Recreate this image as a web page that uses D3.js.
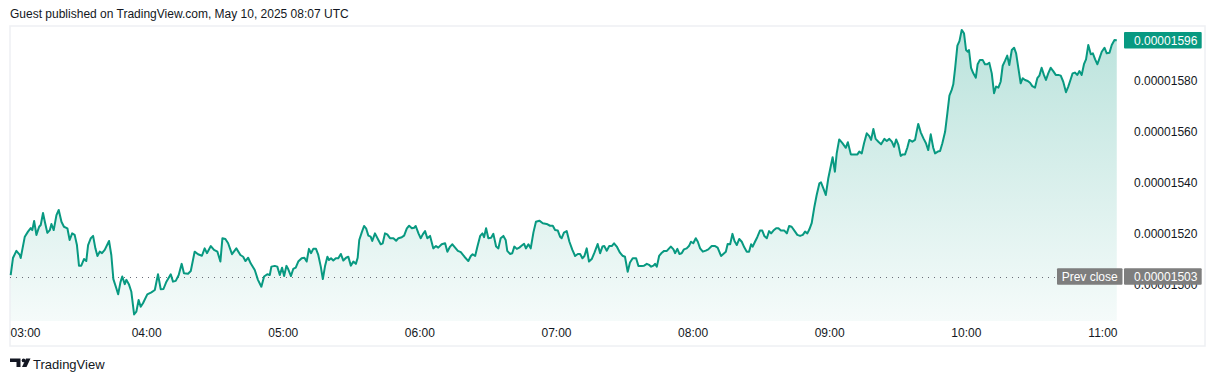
<!DOCTYPE html>
<html>
<head>
<meta charset="utf-8">
<script src="https://cdn.jsdelivr.net/npm/d3@7"></script>
<style>
  body { margin: 0; background: #fff; }
  svg { display: block; font-family: "Liberation Sans", Arial, sans-serif; }
</style>
</head>
<body>
<svg id="chart" width="1218" height="382"></svg>
<script>
// minutes after 03:00
const minutes = [
  0.5,1.5,3.0,4.5,4.9,6.7,8.1,9.3,10.0,10.8,11.8,13.0,13.7,14.7,15.5,16.6,17.7,18.4,19.4,20.6,21.6,22.8,23.9,25.4,26.4,27.5,28.6,29.6,30.5,31.5,32.7,33.7,34.5,35.7,36.7,37.7,38.6,39.6,40.6,41.8,43.7,44.7,45.6,46.9,47.7,48.7,49.5,50.6,51.3,52.4,53.5,54.7,55.7,56.7,57.6,58.6,60.5,62.3,63.8,65.2,66.4,67.6,68.9,70.8,71.8,73.0,74.3,75.6,76.6,78.4,79.6,81.3,82.8,84.5,85.7,86.7,88.4,89.8,91.3,92.6,93.5,94.8,96.0,97.7,99.6,101.4,102.6,103.6,104.8,105.9,107.7,109.1,110.6,111.8,113.2,114.3,115.0,116.5,117.6,118.7,119.7,120.6,121.6,
  122.2,123.6,124.6,125.7,126.8,128.3,129.5,130.5,131.5,132.4,133.4,134.6,135.6,136.7,137.6,138.6,139.6,140.3,141.2,142.2,143.3,144.4,145.5,146.6,147.8,148.8,149.9,151.0,152.1,152.9,153.6,154.7,155.7,156.6,157.6,158.6,159.3,160.5,162.0,163.0,163.9,164.9,165.9,167.1,168.6,169.8,170.8,172.3,173.3,174.5,175.5,176.7,177.7,178.4,179.6,180.6,181.5,182.5,183.5,184.7,186.1,187.3,188.3,189.8,191.3,192.3,193.5,194.5,195.7,196.9,198.2,199.8,201.5,202.6,203.4,204.5,205.5,206.7,207.7,208.4,209.3,210.3,211.5,212.5,213.7,214.7,215.7,216.9,217.9,218.6,219.8,220.8,221.7,222.8,223.9,225.0,226.0,226.8,227.9,228.9,230.1,231.2,232.7,234.2,235.9,237.4,238.6,239.6,240.8,241.8,
  242.5,243.5,244.7,245.9,247.2,248.4,249.6,250.6,251.6,252.5,253.5,254.5,255.7,256.9,258.3,259.4,260.4,261.2,262.3,263.4,264.5,265.5,266.7,268.1,269.2,270.3,271.5,272.5,273.7,275.2,276.2,277.7,278.7,279.9,280.9,281.8,282.8,283.5,284.3,285.3,286.5,287.5,288.7,289.7,290.5,291.6,292.3,293.3,294.2,295.2,296.2,297.4,298.4,299.3,300.3,301.4,302.3,303.3,304.5,305.8,306.9,308.4,309.9,311.0,312.5,313.5,314.6,315.4,316.5,317.5,318.4,319.4,320.5,321.6,322.7,323.8,324.8,325.7,326.4,327.4,328.4,329.6,330.6,331.5,332.6,333.6,334.5,335.5,336.7,337.7,338.8,340.3,341.4,342.4,343.5,344.7,346.0,347.2,348.4,349.4,350.4,351.3,352.3,353.5,354.5,355.7,356.4,357.4,358.5,359.6,360.8,361.5,362.5,363.3,364.4,
  365.8,367.3,368.2,369.5,370.9,372.4,373.2,374.3,375.3,376.5,377.6,378.4,379.4,380.4,381.6,382.8,384.2,385.3,386.4,387.5,388.5,389.4,390.4,391.4,392.3,393.3,394.3,395.2,396.5,397.7,398.4,399.1,400.2,401.4,402.5,403.5,404.6,405.7,406.5,407.7,408.7,409.7,410.9,411.9,412.8,413.8,414.5,415.3,416.3,417.2,418.2,419.2,420.1,420.9,421.4,422.3,423.3,424.4,425.2,426.2,427.4,428.4,429.4,430.3,431.4,432.4,433.3,434.3,435.3,436.2,437.2,438.2,439.1,440.2,441.2,442.1,443.1,444.1,445.0,446.0,447.2,448.2,449.2,450.4,451.4,452.3,453.3,454.3,455.2,456.2,457.3,458.4,459.5,460.6,461.7,462.8,464.0,465.0,466.1,466.9,467.9,469.0,469.9,470.9,471.9,472.8,473.8,474.9,475.8,476.8,477.8,478.7,479.7,480.9,481.9,483.1,484.1,485.3,486.3
];

// price, in units of 1e-8
const prices = [
  1503.6,1510.3,1513.1,1511.5,1510.3,1518.7,1520.7,1522.1,1521.3,1524.9,1519.4,1522.6,1523.3,1528.0,1524.6,1520.2,1521.3,1523.7,1521.3,1527.2,1529.2,1524.6,1522.6,1522.0,1517.4,1520.0,1519.4,1515.4,1507.3,1507.3,1509.9,1509.1,1515.4,1518.1,1519.0,1514.1,1511.1,1512.8,1512.2,1513.5,1517.0,1511.5,1502.0,1498.4,1496.0,1500.7,1503.0,1500.0,1501.7,1500.0,1497.0,1488.1,1489.2,1493.8,1491.1,1492.5,1496.0,1496.8,1497.7,1503.9,1498.0,1498.1,1501.0,1503.9,1501.0,1501.3,1503.6,1508.0,1504.3,1504.1,1505.2,1512.8,1511.8,1511.2,1514.1,1512.2,1515.0,1513.5,1512.8,1508.9,1518.1,1517.8,1516.1,1511.8,1514.1,1511.5,1510.8,1509.1,1510.4,1508.2,1505.6,1501.7,1499.0,1503.0,1503.9,1503.6,1506.9,1507.2,1506.9,1503.6,1506.5,1503.2,1507.2,
  1506.3,1503.2,1506.0,1506.5,1508.9,1510.2,1510.4,1508.9,1513.9,1512.2,1513.9,1513.9,1511.5,1506.9,1502.0,1507.3,1510.8,1509.5,1510.2,1509.3,1510.2,1510.2,1511.9,1509.3,1510.4,1510.8,1507.3,1508.9,1508.0,1510.4,1517.4,1520.4,1522.9,1522.0,1519.1,1518.7,1517.0,1520.0,1517.4,1515.7,1516.1,1520.0,1519.6,1518.1,1518.1,1517.1,1518.1,1518.5,1519.1,1522.0,1523.0,1522.0,1522.2,1522.9,1520.0,1518.1,1519.6,1520.9,1518.1,1519.0,1514.1,1515.0,1514.4,1515.7,1516.1,1512.8,1514.8,1515.7,1514.4,1513.1,1512.6,1510.8,1509.1,1511.1,1511.8,1511.1,1514.8,1519.0,1520.0,1518.5,1522.0,1518.1,1518.3,1519.8,1514.8,1514.1,1518.1,1519.0,1517.4,1513.1,1511.9,1512.2,1514.8,1513.9,1514.4,1515.2,1515.9,1514.1,1515.7,1514.1,1520.4,1524.6,1525.0,1524.0,1523.7,1523.0,1523.0,1521.3,1521.1,1518.7,
  1518.1,1520.3,1520.9,1516.7,1513.5,1511.1,1511.9,1511.9,1510.2,1511.1,1514.1,1508.9,1509.9,1512.4,1515.8,1512.2,1514.8,1515.0,1513.2,1515.0,1515.0,1516.1,1514.8,1512.4,1511.2,1510.8,1504.9,1508.5,1510.2,1510.2,1507.2,1507.2,1507.3,1508.0,1507.6,1506.9,1507.3,1508.0,1506.9,1511.1,1512.4,1513.1,1513.1,1514.1,1514.8,1513.7,1512.2,1513.9,1511.9,1512.2,1513.7,1514.1,1515.0,1516.7,1516.1,1518.1,1516.7,1514.1,1512.8,1513.2,1513.7,1515.0,1515.0,1514.4,1511.1,1511.9,1512.8,1515.8,1515.7,1519.8,1517.0,1515.4,1517.8,1516.7,1514.5,1512.8,1512.8,1515.7,1514.8,1516.7,1518.5,1521.1,1521.1,1519.0,1518.1,1520.9,1520.0,1521.1,1522.0,1522.0,1521.1,1521.1,1520.0,1522.9,1522.6,1521.1,1519.4,1519.0,1519.4,1520.7,1520.0,1521.6,1524.0,1530.5,1535.1,1539.7,1540.1,1537.8,1535.1,1541.7,1546.9,1550.0,1544.3,1551.5,1557.0,
  1555.5,1553.7,1555.9,1551.1,1551.1,1551.1,1552.2,1551.5,1555.5,1559.4,1558.3,1556.8,1561.1,1557.2,1556.1,1555.1,1557.2,1556.4,1557.2,1556.1,1554.1,1557.0,1554.8,1550.5,1551.1,1551.1,1553.7,1556.8,1556.1,1556.8,1560.0,1563.1,1559.8,1557.4,1555.5,1552.8,1559.0,1553.7,1551.5,1552.2,1552.4,1555.5,1560.0,1567.3,1574.2,1576.5,1578.7,1585.0,1593.9,1595.7,1600.1,1598.8,1592.2,1591.5,1592.2,1585.2,1583.0,1581.3,1586.6,1588.3,1588.3,1586.6,1586.6,1587.2,1583.0,1575.2,1577.8,1577.4,1579.7,1586.0,1587.9,1590.0,1586.3,1592.2,1593.1,1590.9,1585.0,1579.1,1581.1,1580.4,1580.0,1579.3,1578.0,1577.4,1581.1,1582.1,1585.2,1582.4,1580.4,1583.0,1585.2,1583.9,1582.4,1582.4,1582.1,1579.7,1575.6,1577.8,1580.8,1583.0,1583.3,1582.4,1583.9,1582.4,1586.6,1588.5,1594.2,1590.5,1590.9,1588.5,1586.6,1588.9,1591.5,1593.1,1590.9,1591.1,1594.2,1596.1,1596.0
];

const hourTicks = [0, 60, 120, 180, 240, 300, 360, 420, 480];
const hourLabels = ["03:00", "04:00", "05:00", "06:00", "07:00", "08:00", "09:00", "10:00", "11:00"];
const priceTicks = [1500, 1520, 1540, 1560, 1580];
const prevClose = 1503;
const lastPrice = 1596;

const green = "#089981";
const fmt = v => (v * 1e-8).toFixed(8);

const svg = d3.select("#chart");
const plotLeft = 10, plotRight = 1122, plotTop = 26, plotBottom = 321;

const x = d3.scaleLinear().domain([0.2, 488.6]).range([plotLeft, plotRight]);
const y = d3.scaleLinear().domain([1485.5, 1601.65]).range([plotBottom, plotTop]);

const data = minutes.map((m, i) => ({ m, v: prices[i] }));

// header
svg.append("text").attr("x", 10).attr("y", 18)
  .attr("font-size", 12).attr("fill", "#131722")
  .text("Guest published on TradingView.com, May 10, 2025 08:07 UTC");

// frame
svg.append("rect").attr("x", 10).attr("y", 26).attr("width", 1195).attr("height", 320)
  .attr("fill", "none").attr("stroke", "#eef0f3").attr("stroke-width", 1.5);

// area gradient
const grad = svg.append("defs").append("linearGradient")
  .attr("id", "fillGrad").attr("gradientUnits", "userSpaceOnUse")
  .attr("x1", 0).attr("x2", 0).attr("y1", plotTop).attr("y2", plotBottom);
grad.append("stop").attr("offset", 0).attr("stop-color", green).attr("stop-opacity", 0.28);
grad.append("stop").attr("offset", 1).attr("stop-color", green).attr("stop-opacity", 0.04);

svg.append("path").datum(data)
  .attr("fill", "url(#fillGrad)")
  .attr("d", d3.area().x(d => x(d.m)).y0(plotBottom).y1(d => y(d.v)));

// previous close dotted line
const pcY = Math.round(y(prevClose)) + 0.5;
svg.append("line")
  .attr("x1", plotLeft).attr("x2", 1057).attr("y1", pcY).attr("y2", pcY)
  .attr("stroke", "#6a6d78").attr("stroke-width", 1).attr("stroke-dasharray", "1 5");

svg.append("path").datum(data)
  .attr("fill", "none").attr("stroke", green).attr("stroke-width", 2)
  .attr("stroke-linejoin", "round")
  .attr("d", d3.line().x(d => x(d.m)).y(d => y(d.v)));

// price axis
const yAxis = svg.append("g").attr("transform", `translate(${plotRight},0)`)
  .call(d3.axisRight(y).tickValues(priceTicks).tickFormat(fmt).tickSize(0).tickPadding(12));
yAxis.select(".domain").remove();
yAxis.selectAll("text").attr("font-size", 12).attr("fill", "#131722")
  .attr("font-family", "Liberation Sans, Arial, sans-serif");

// time axis
const xAxis = svg.append("g").attr("transform", `translate(0,${plotBottom})`)
  .call(d3.axisBottom(x).tickValues(hourTicks).tickFormat((d, i) => hourLabels[i]).tickSize(0).tickPadding(7.5));
xAxis.select(".domain").remove();
xAxis.selectAll("text").attr("font-size", 12).attr("fill", "#131722")
  .attr("font-family", "Liberation Sans, Arial, sans-serif");
xAxis.selectAll(".tick").filter(d => d === 0).select("text")
  .attr("text-anchor", "start").attr("x", plotLeft - x(0));

// price labels
function priceLabel(v, fill, tag) {
  const cy = y(v);
  const g = svg.append("g");
  if (tag) {
    g.append("rect").attr("x", 1057).attr("y", cy - 8.3).attr("width", 65.5).attr("height", 16.4)
      .attr("fill", fill).attr("rx", 1);
    g.append("text").attr("x", 1089.7).attr("y", cy + 4.2).attr("text-anchor", "middle")
      .attr("font-size", 12).attr("fill", "#fff").text(tag);
  }
  g.append("rect").attr("x", 1124).attr("y", cy - 8.3).attr("width", 77.7).attr("height", 16.4)
    .attr("fill", fill).attr("rx", 1);
  g.append("text").attr("x", 1134).attr("y", cy + 4.2)
    .attr("font-size", 12).attr("fill", "#fff").text(fmt(v));
}
priceLabel(prevClose, "#7e7e7e", "Prev close");
priceLabel(lastPrice, green, null);

// footer logo
const logo = svg.append("g").attr("fill", "#131722");
logo.append("path").attr("d", "M10,358.5H20.5V367H16.5V362H10Z");
logo.append("circle").attr("cx", 23.6).attr("cy", 360.4).attr("r", 1.9);
logo.append("path").attr("d", "M26,358.5H30.5L26.5,367H22Z");
svg.append("text").attr("x", 33).attr("y", 368.5)
  .attr("font-size", 13).attr("fill", "#131722").text("TradingView");
</script>
</body>
</html>
